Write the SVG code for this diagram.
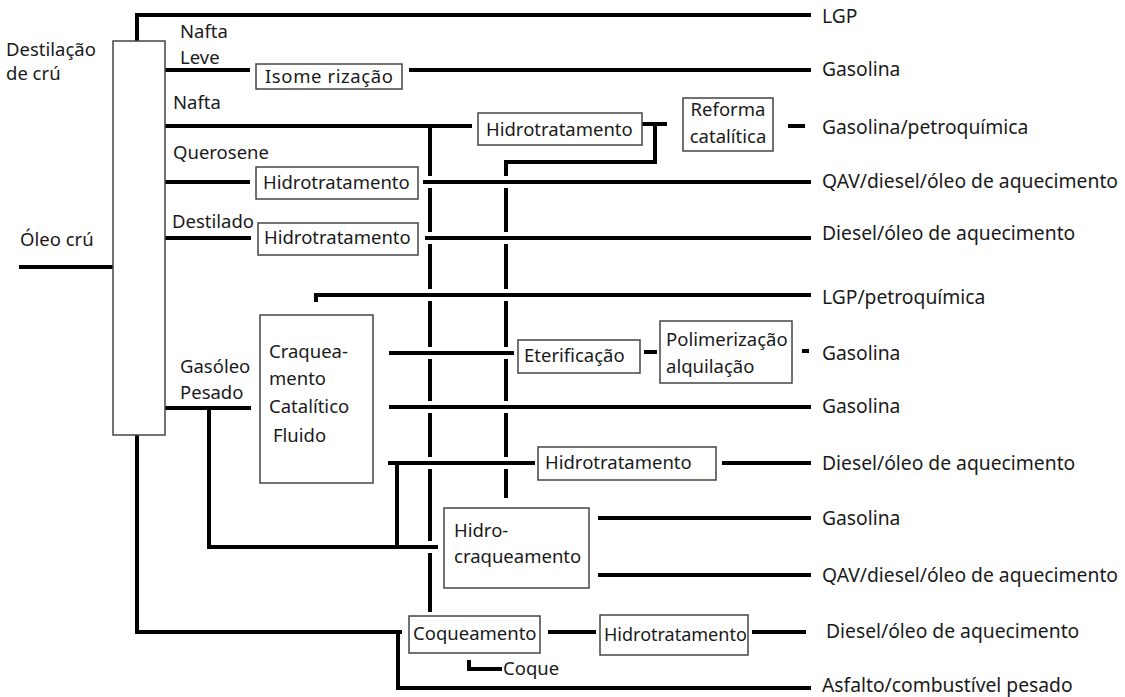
<svg xmlns="http://www.w3.org/2000/svg" width="1125" height="697" viewBox="0 0 1125 697">
<style>
text{font-family:"Noto Sans","Open Sans",sans-serif;font-size:18.5px;fill:#1a1a1a}
.box{fill:#fff;stroke:#444;stroke-width:1.5}
.ln{fill:none;stroke:#000;stroke-width:4}
.mid{text-anchor:middle}
.out{font-size:19.3px}
.sm{font-size:18px}
</style>
<rect width="1125" height="697" fill="#fff"/>
<g id="connectors" class="ln">
<path d="M137 41 V15 H811"/>
<path d="M165 70 H250 M409 70 H811"/>
<path d="M165 126 H472"/>
<path d="M430 126 V176 M430 188 V232 M430 244 V289 M430 301 V347 M430 359 V401 M430 413 V457 M430 469 V541 M430 553 V612"/>
<path d="M642 124 H667 M655 124 V162 H506 V176 M506 188 V232 M506 244 V289 M506 301 V347 M506 359 V401 M506 413 V457 M506 469 V498"/>
<path d="M788 126 H805"/>
<path d="M165 182 H250 M423 182 H811"/>
<path d="M165 238 H251 M425 238 H811"/>
<path d="M19 267 H113"/>
<path d="M316 302 V295 H811"/>
<path d="M389 353 H514"/>
<path d="M644 352 H657 M802 351 H809"/>
<path d="M389 407 H811"/>
<path d="M165 408 H251 M209 408 V547 H438"/>
<path d="M388 463 H535 M397 463 V547"/>
<path d="M722 463 H811"/>
<path d="M598 518 H811 M598 575 H811"/>
<path d="M137 435 V632 H402 M398 632 V688 H811"/>
<path d="M548 632 H596 M752 632 H806"/>
<path d="M469 660 V669 H502"/>
</g>
<g id="destilacao">
<rect class="box" x="113" y="41" width="52" height="394"/>
<text x="6" y="56">Destilação</text>
<text x="6" y="80">de crú</text>
</g>
<g id="labels-left">
<text x="20" y="246">Óleo crú</text>
<text x="180" y="38">Nafta</text>
<text x="180" y="64">Leve</text>
<text x="173" y="109">Nafta</text>
<text x="173" y="159">Querosene</text>
<text x="172" y="228">Destilado</text>
<text x="180" y="373">Gasóleo</text>
<text x="180" y="399">Pesado</text>
</g>
<g id="isomerizacao">
<rect class="box" x="256" y="64" width="146" height="25"/>
<text x="265" y="83" textLength="128">Isome rização</text>
</g>
<g id="hidrotratamento-nafta">
<rect class="box" x="478" y="113" width="164" height="32"/>
<text x="486" y="136">Hidrotratamento</text>
</g>
<g id="reforma">
<rect class="box" x="683" y="98" width="90" height="53"/>
<text class="mid" x="728" y="116">Reforma</text>
<text class="mid" x="728" y="143">catalítica</text>
</g>
<g id="hidrotratamento-querosene">
<rect class="box" x="256" y="167" width="162" height="32"/>
<text x="263" y="189">Hidrotratamento</text>
</g>
<g id="hidrotratamento-destilado">
<rect class="box" x="258" y="223" width="160" height="32"/>
<text x="264" y="244">Hidrotratamento</text>
</g>
<g id="fcc">
<rect class="box" x="260" y="315" width="113" height="168"/>
<text x="269" y="358">Craquea-</text>
<text x="269" y="385">mento</text>
<text x="269" y="413">Catalítico</text>
<text x="273" y="442">Fluido</text>
</g>
<g id="eterificacao">
<rect class="box" x="518" y="340" width="122" height="33"/>
<text x="524" y="362">Eterificação</text>
</g>
<g id="polimerizacao">
<rect class="box" x="660" y="321" width="132" height="62"/>
<text x="666" y="346">Polimerização</text>
<text x="666" y="373">alquilação</text>
</g>
<g id="hidrotratamento-hck">
<rect class="box" x="538" y="447" width="178" height="33"/>
<text x="545" y="469">Hidrotratamento</text>
</g>
<g id="hidrocraqueamento">
<rect class="box" x="444" y="508" width="145" height="80"/>
<text x="454" y="537">Hidro-</text>
<text x="454" y="563">craqueamento</text>
</g>
<g id="coqueamento">
<rect class="box" x="409" y="616" width="131" height="37"/>
<text x="413" y="640">Coqueamento</text>
</g>
<g id="hidrotratamento-coque">
<rect class="box" x="600" y="615" width="148" height="40"/>
<text class="sm" x="604" y="641">Hidrotratamento</text>
</g>
<g id="coque">
<text x="503" y="675">Coque</text>
</g>
<g id="labels-right" class="out">
<text class="out" x="822" y="23">LGP</text>
<text class="out" x="822" y="76">Gasolina</text>
<text class="out" x="822" y="134">Gasolina/petroquímica</text>
<text class="out" x="822" y="188">QAV/diesel/óleo de aquecimento</text>
<text class="out" x="822" y="240">Diesel/óleo de aquecimento</text>
<text class="out" x="822" y="304">LGP/petroquímica</text>
<text class="out" x="822" y="360">Gasolina</text>
<text class="out" x="822" y="413">Gasolina</text>
<text class="out" x="822" y="470">Diesel/óleo de aquecimento</text>
<text class="out" x="822" y="525">Gasolina</text>
<text class="out" x="822" y="582">QAV/diesel/óleo de aquecimento</text>
<text class="out" x="826" y="638">Diesel/óleo de aquecimento</text>
<text class="out" x="822" y="692">Asfalto/combustível pesado</text>
</g>
</svg>
